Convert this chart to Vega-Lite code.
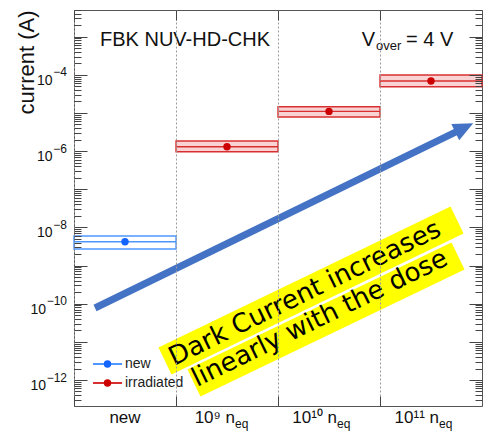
{
  "$schema": "https://vega.github.io/schema/vega-lite/v6.json",
  "width": 408,
  "height": 396,
  "autosize": {"type": "none"},
  "padding": {"left": 74, "top": 10, "right": 2, "bottom": 26},
  "config": {
    "view": {"stroke": "#555555", "strokeWidth": 1},
    "font": "Liberation Sans",
    "text": {"font": "Liberation Sans"}
  },
  "resolve": {"scale": {"x": "independent"}, "axis": {"x": "independent", "y": "independent"}},
  "layer": [
    {
      "data": {"values": [
        {"cat": "new", "type": "new", "val": 4.22e-9, "lo": 2.72e-9, "hi": 5.95e-9},
        {"cat": "1e9", "type": "irradiated", "val": 1.30e-6, "lo": 9.64e-7, "hi": 1.84e-6},
        {"cat": "1e10", "type": "irradiated", "val": 1.10e-5, "lo": 7.83e-6, "hi": 1.46e-5},
        {"cat": "1e11", "type": "irradiated", "val": 6.88e-5, "lo": 4.88e-5, "hi": 9.9e-5}
      ]},
      "resolve": {"axis": {"x": "independent", "y": "independent"}},
      "layer": [
        {
          "mark": {"type": "rect", "strokeWidth": 1.4},
          "encoding": {
            "x": {"field": "cat", "type": "nominal", "scale": {"domain": ["new", "1e9", "1e10", "1e11"], "paddingInner": 0, "paddingOuter": 0},
              "axis": {"orient": "bottom", "bandPosition": 0, "labels": false, "title": null, "domain": false, "grid": true, "gridDash": [2, 2], "gridColor": "#9a9a9a", "gridWidth": 1, "ticks": true, "tickSize": -10, "tickColor": "#444444"}},
            "y": {"field": "lo", "type": "quantitative", "scale": {"type": "log", "domain": [2.08e-13, 5e-3], "nice": false},
              "axis": {"orient": "left", "zindex": 1, "values": [3e-13,4e-13,5e-13,6e-13,7e-13,8e-13,9e-13,1e-12,2e-12,3e-12,4e-12,5e-12,6e-12,7e-12,8e-12,9e-12,1e-11,2e-11,3e-11,4e-11,5e-11,6e-11,7e-11,8e-11,9e-11,1e-10,2e-10,3e-10,4e-10,5e-10,6e-10,7e-10,8e-10,9e-10,1e-9,2e-9,3e-9,4e-9,5e-9,6e-9,7e-9,8e-9,9e-9,1e-8,2e-8,3e-8,4e-8,5e-8,6e-8,7e-8,8e-8,9e-8,1e-7,2e-7,3e-7,4e-7,5e-7,6e-7,7e-7,8e-7,9e-7,1e-6,2e-6,3e-6,4e-6,5e-6,6e-6,7e-6,8e-6,9e-6,1e-5,2e-5,3e-5,4e-5,5e-5,6e-5,7e-5,8e-5,9e-5,1e-4,2e-4,3e-4,4e-4,5e-4,6e-4,7e-4,8e-4,9e-4,1e-3,2e-3,3e-3,4e-3,5e-3],
                "labels": false, "domain": false, "grid": false, "tickColor": "#444444",
                "tickSize": {"condition": {"test": "abs(log(datum.value)/LN10 - round(log(datum.value)/LN10)) < 0.001", "value": -13}, "value": -7},
                "title": "current (A)", "titleFont": "Liberation Sans", "titleFontSize": 22, "titleFontWeight": "normal", "titleColor": "#111111",
                "titleAngle": 270, "titleAlign": "right", "titleBaseline": "alphabetic", "titleX": -41, "titleY": 0}},
            "y2": {"field": "hi"},
            "stroke": {"field": "type", "type": "nominal", "scale": {"domain": ["new", "irradiated"], "range": ["#4d96ff", "#d83030"]}, "legend": null},
            "fill": {"condition": {"test": "datum.type == 'irradiated'", "value": "#f9d3d3"}, "value": "transparent"}
          }
        },
        {
          "mark": {"type": "rect", "strokeWidth": 1.4},
          "encoding": {
            "x": {"field": "cat", "type": "nominal", "scale": {"domain": ["new", "1e9", "1e10", "1e11"], "paddingInner": 0, "paddingOuter": 0},
              "axis": {"orient": "top", "zindex": 1, "bandPosition": 0, "labels": false, "title": null, "domain": false, "grid": false, "ticks": true, "tickSize": -10, "tickColor": "#444444"}},
            "y": {"field": "val", "type": "quantitative", "scale": {"type": "log", "domain": [2.08e-13, 5e-3], "nice": false},
              "axis": {"orient": "right", "zindex": 1, "values": [3e-13,4e-13,5e-13,6e-13,7e-13,8e-13,9e-13,1e-12,2e-12,3e-12,4e-12,5e-12,6e-12,7e-12,8e-12,9e-12,1e-11,2e-11,3e-11,4e-11,5e-11,6e-11,7e-11,8e-11,9e-11,1e-10,2e-10,3e-10,4e-10,5e-10,6e-10,7e-10,8e-10,9e-10,1e-9,2e-9,3e-9,4e-9,5e-9,6e-9,7e-9,8e-9,9e-9,1e-8,2e-8,3e-8,4e-8,5e-8,6e-8,7e-8,8e-8,9e-8,1e-7,2e-7,3e-7,4e-7,5e-7,6e-7,7e-7,8e-7,9e-7,1e-6,2e-6,3e-6,4e-6,5e-6,6e-6,7e-6,8e-6,9e-6,1e-5,2e-5,3e-5,4e-5,5e-5,6e-5,7e-5,8e-5,9e-5,1e-4,2e-4,3e-4,4e-4,5e-4,6e-4,7e-4,8e-4,9e-4,1e-3,2e-3,3e-3,4e-3,5e-3],
                "labels": false, "title": null, "domain": false, "grid": false, "tickColor": "#444444",
                "tickSize": {"condition": {"test": "abs(log(datum.value)/LN10 - round(log(datum.value)/LN10)) < 0.001", "value": -13}, "value": -7}}},
            "y2": {"field": "val"},
            "stroke": {"field": "type", "type": "nominal", "legend": null},
            "fill": {"value": "transparent"}
          }
        },
        {
          "mark": {"type": "point", "filled": true, "size": 55, "opacity": 1, "strokeWidth": 0},
          "encoding": {
            "x": {"field": "cat", "type": "nominal", "scale": {"domain": ["new", "1e9", "1e10", "1e11"], "paddingInner": 0, "paddingOuter": 0}, "axis": null},
            "y": {"field": "val", "type": "quantitative", "scale": {"type": "log", "domain": [2.08e-13, 5e-3], "nice": false}, "axis": null},
            "fill": {"field": "type", "type": "nominal", "scale": {"domain": ["new", "irradiated"], "range": ["#1464ff", "#cc0000"]}, "legend": null}
          }
        },
        {
          "data": {"values": [{"cat": "new", "t": "new"}]},
          "mark": {"type": "text", "align": "center", "baseline": "alphabetic", "fontSize": 17, "color": "#111111"},
          "encoding": {
            "x": {"field": "cat", "type": "nominal", "scale": {"domain": ["new", "1e9", "1e10", "1e11"], "paddingInner": 0, "paddingOuter": 0}, "axis": null},
            "y": {"datum": 7.46e-14, "type": "quantitative", "scale": {"type": "log", "domain": [2.08e-13, 5e-3], "nice": false}, "axis": null},
            "text": {"field": "t"}
          }
        },
        {
          "data": {"values": [{"cat": "1e9", "t": "10⁹ n"}, {"cat": "1e10", "t": "10¹⁰ n"}, {"cat": "1e11", "t": "10¹¹ n"}]},
          "mark": {"type": "text", "align": "right", "baseline": "alphabetic", "fontSize": 17, "dx": 8, "color": "#111111"},
          "encoding": {
            "x": {"field": "cat", "type": "nominal", "scale": {"domain": ["new", "1e9", "1e10", "1e11"], "paddingInner": 0, "paddingOuter": 0}, "axis": null},
            "y": {"datum": 7.46e-14, "type": "quantitative", "scale": {"type": "log", "domain": [2.08e-13, 5e-3], "nice": false}, "axis": null},
            "text": {"field": "t"}
          }
        },
        {
          "data": {"values": [{"cat": "1e9", "t": "eq"}, {"cat": "1e10", "t": "eq"}, {"cat": "1e11", "t": "eq"}]},
          "mark": {"type": "text", "align": "left", "baseline": "alphabetic", "fontSize": 12, "dx": 8, "dy": 5, "color": "#111111"},
          "encoding": {
            "x": {"field": "cat", "type": "nominal", "scale": {"domain": ["new", "1e9", "1e10", "1e11"], "paddingInner": 0, "paddingOuter": 0}, "axis": null},
            "y": {"datum": 7.46e-14, "type": "quantitative", "scale": {"type": "log", "domain": [2.08e-13, 5e-3], "nice": false}, "axis": null},
            "text": {"field": "t"}
          }
        }
      ]
    },
    {
      "layer": [
        {
          "data": {"values": [
            {"v": 1e-4, "e": "−4"}, {"v": 1e-6, "e": "−6"}, {"v": 1e-8, "e": "−8"}, {"v": 1e-10, "e": "−10"}, {"v": 1e-12, "e": "−12"}
          ]},
          "mark": {"type": "text", "align": "right", "baseline": "alphabetic", "fontSize": 12, "dy": 1.6, "color": "#111111"},
          "encoding": {
            "x": {"datum": -0.0686, "type": "quantitative", "scale": {"domain": [0, 4], "nice": false, "zero": false}, "axis": null},
            "y": {"field": "v", "type": "quantitative", "scale": {"type": "log", "domain": [2.08e-13, 5e-3], "nice": false}, "axis": null},
            "text": {"field": "e"}
          }
        },
        {
          "data": {"values": [
            {"v": 1e-4, "e": "−4"}, {"v": 1e-6, "e": "−6"}, {"v": 1e-8, "e": "−8"}, {"v": 1e-10, "e": "−10"}, {"v": 1e-12, "e": "−12"}
          ]},
          "transform": [{"filter": "length(datum.e) == 2"}],
          "mark": {"type": "text", "text": "10", "align": "right", "baseline": "alphabetic", "fontSize": 14, "dy": 10, "color": "#111111"},
          "encoding": {
            "x": {"datum": -0.2108, "type": "quantitative", "scale": {"domain": [0, 4], "nice": false, "zero": false}, "axis": null},
            "y": {"field": "v", "type": "quantitative", "scale": {"type": "log", "domain": [2.08e-13, 5e-3], "nice": false}, "axis": null}
          }
        },
        {
          "data": {"values": [
            {"v": 1e-4, "e": "−4"}, {"v": 1e-6, "e": "−6"}, {"v": 1e-8, "e": "−8"}, {"v": 1e-10, "e": "−10"}, {"v": 1e-12, "e": "−12"}
          ]},
          "transform": [{"filter": "length(datum.e) == 3"}],
          "mark": {"type": "text", "text": "10", "align": "right", "baseline": "alphabetic", "fontSize": 14, "dy": 10, "color": "#111111"},
          "encoding": {
            "x": {"datum": -0.2745, "type": "quantitative", "scale": {"domain": [0, 4], "nice": false, "zero": false}, "axis": null},
            "y": {"field": "v", "type": "quantitative", "scale": {"type": "log", "domain": [2.08e-13, 5e-3], "nice": false}, "axis": null}
          }
        },
        {
          "data": {"values": [
            {"type": "new", "ax": 0.186, "ay": 2.62e-12},
            {"type": "new", "ax": 0.471, "ay": 2.62e-12},
            {"type": "irradiated", "ax": 0.186, "ay": 8.34e-13},
            {"type": "irradiated", "ax": 0.471, "ay": 8.34e-13}
          ]},
          "mark": {"type": "line", "strokeWidth": 2},
          "encoding": {
            "x": {"field": "ax", "type": "quantitative", "scale": {"domain": [0, 4], "nice": false, "zero": false}, "axis": null},
            "y": {"field": "ay", "type": "quantitative", "scale": {"type": "log", "domain": [2.08e-13, 5e-3], "nice": false}, "axis": null},
            "stroke": {"field": "type", "type": "nominal", "legend": null},
            "detail": {"field": "type", "type": "nominal"}
          }
        },
        {
          "data": {"values": [
            {"type": "new", "ay": 2.62e-12},
            {"type": "irradiated", "ay": 8.34e-13}
          ]},
          "mark": {"type": "point", "filled": true, "size": 55, "opacity": 1, "strokeWidth": 0},
          "encoding": {
            "x": {"datum": 0.3284, "type": "quantitative", "scale": {"domain": [0, 4], "nice": false, "zero": false}, "axis": null},
            "y": {"field": "ay", "type": "quantitative", "scale": {"type": "log", "domain": [2.08e-13, 5e-3], "nice": false}, "axis": null},
            "fill": {"field": "type", "type": "nominal", "legend": null}
          }
        },
        {
          "data": {"values": [
            {"t": "new", "ay": 2.62e-12},
            {"t": "irradiated", "ay": 8.34e-13}
          ]},
          "mark": {"type": "text", "align": "left", "baseline": "middle", "fontSize": 14, "color": "#222222"},
          "encoding": {
            "x": {"datum": 0.5, "type": "quantitative", "scale": {"domain": [0, 4], "nice": false, "zero": false}, "axis": null},
            "y": {"field": "ay", "type": "quantitative", "scale": {"type": "log", "domain": [2.08e-13, 5e-3], "nice": false}, "axis": null},
            "text": {"field": "t"}
          }
        },
        {
          "data": {"values": [
            {"seg": "a", "ax": 0.892, "ay": 3.15e-12},
            {"seg": "a", "ax": 3.755, "ay": 1.56e-8},
            {"seg": "b", "ax": 1.176, "ay": 8.35e-13},
            {"seg": "b", "ax": 3.765, "ay": 1.78e-9}
          ]},
          "mark": {"type": "line", "color": "#ffff00", "strokeWidth": 30, "strokeCap": "butt"},
          "encoding": {
            "x": {"field": "ax", "type": "quantitative", "scale": {"domain": [0, 4], "nice": false, "zero": false}, "axis": null},
            "y": {"field": "ay", "type": "quantitative", "scale": {"type": "log", "domain": [2.08e-13, 5e-3], "nice": false}, "axis": null},
            "detail": {"field": "seg", "type": "nominal"}
          }
        },
        {
          "data": {"values": [
            {"ax": 0.980, "ay": 2.33e-12, "t": "Dark Current increases"},
            {"ax": 1.206, "ay": 6.55e-13, "t": "linearly with the dose"}
          ]},
          "mark": {"type": "text", "align": "left", "baseline": "alphabetic", "angle": 334, "font": "DejaVu Sans", "fontSize": 26, "color": "#000000"},
          "encoding": {
            "x": {"field": "ax", "type": "quantitative", "scale": {"domain": [0, 4], "nice": false, "zero": false}, "axis": null},
            "y": {"field": "ay", "type": "quantitative", "scale": {"type": "log", "domain": [2.08e-13, 5e-3], "nice": false}, "axis": null},
            "text": {"field": "t"}
          }
        },
        {
          "data": {"values": [
            {"ax": 0.206, "ay": 7.71e-11},
            {"ax": 3.765, "ay": 3.37e-6}
          ]},
          "mark": {"type": "line", "color": "#4472c4", "strokeWidth": 7, "strokeCap": "butt"},
          "encoding": {
            "x": {"field": "ax", "type": "quantitative", "scale": {"domain": [0, 4], "nice": false, "zero": false}, "axis": null},
            "y": {"field": "ay", "type": "quantitative", "scale": {"type": "log", "domain": [2.08e-13, 5e-3], "nice": false}, "axis": null}
          }
        },
        {
          "data": {"values": [{"ax": 3.826, "ay": 4.10e-6}]},
          "mark": {"type": "point", "shape": "M-1,-0.9L1,0L-1,0.9Z", "size": 400, "angle": 334, "filled": true, "opacity": 1, "color": "#4472c4", "strokeWidth": 0},
          "encoding": {
            "x": {"field": "ax", "type": "quantitative", "scale": {"domain": [0, 4], "nice": false, "zero": false}, "axis": null},
            "y": {"field": "ay", "type": "quantitative", "scale": {"type": "log", "domain": [2.08e-13, 5e-3], "nice": false}, "axis": null}
          }
        },
        {
          "data": {"values": [
            {"ax": 0.255, "ay": 5.69e-4, "t": "FBK NUV-HD-CHK"},
            {"ax": 3.255, "ay": 5.69e-4, "t": "= 4 V"}
          ]},
          "mark": {"type": "text", "align": "left", "baseline": "alphabetic", "fontSize": 20, "color": "#111111"},
          "encoding": {
            "x": {"field": "ax", "type": "quantitative", "scale": {"domain": [0, 4], "nice": false, "zero": false}, "axis": null},
            "y": {"field": "ay", "type": "quantitative", "scale": {"type": "log", "domain": [2.08e-13, 5e-3], "nice": false}, "axis": null},
            "text": {"field": "t"}
          }
        },
        {
          "data": {"values": [{"ax": 2.951, "ay": 5.69e-4, "t": "V"}]},
          "mark": {"type": "text", "align": "right", "baseline": "alphabetic", "fontSize": 20, "color": "#111111"},
          "encoding": {
            "x": {"field": "ax", "type": "quantitative", "scale": {"domain": [0, 4], "nice": false, "zero": false}, "axis": null},
            "y": {"field": "ay", "type": "quantitative", "scale": {"type": "log", "domain": [2.08e-13, 5e-3], "nice": false}, "axis": null},
            "text": {"field": "t"}
          }
        },
        {
          "data": {"values": [{"ax": 2.961, "ay": 4.34e-4, "t": "over"}]},
          "mark": {"type": "text", "align": "left", "baseline": "alphabetic", "fontSize": 13, "color": "#111111"},
          "encoding": {
            "x": {"field": "ax", "type": "quantitative", "scale": {"domain": [0, 4], "nice": false, "zero": false}, "axis": null},
            "y": {"field": "ay", "type": "quantitative", "scale": {"type": "log", "domain": [2.08e-13, 5e-3], "nice": false}, "axis": null},
            "text": {"field": "t"}
          }
        }
      ]
    }
  ]
}
